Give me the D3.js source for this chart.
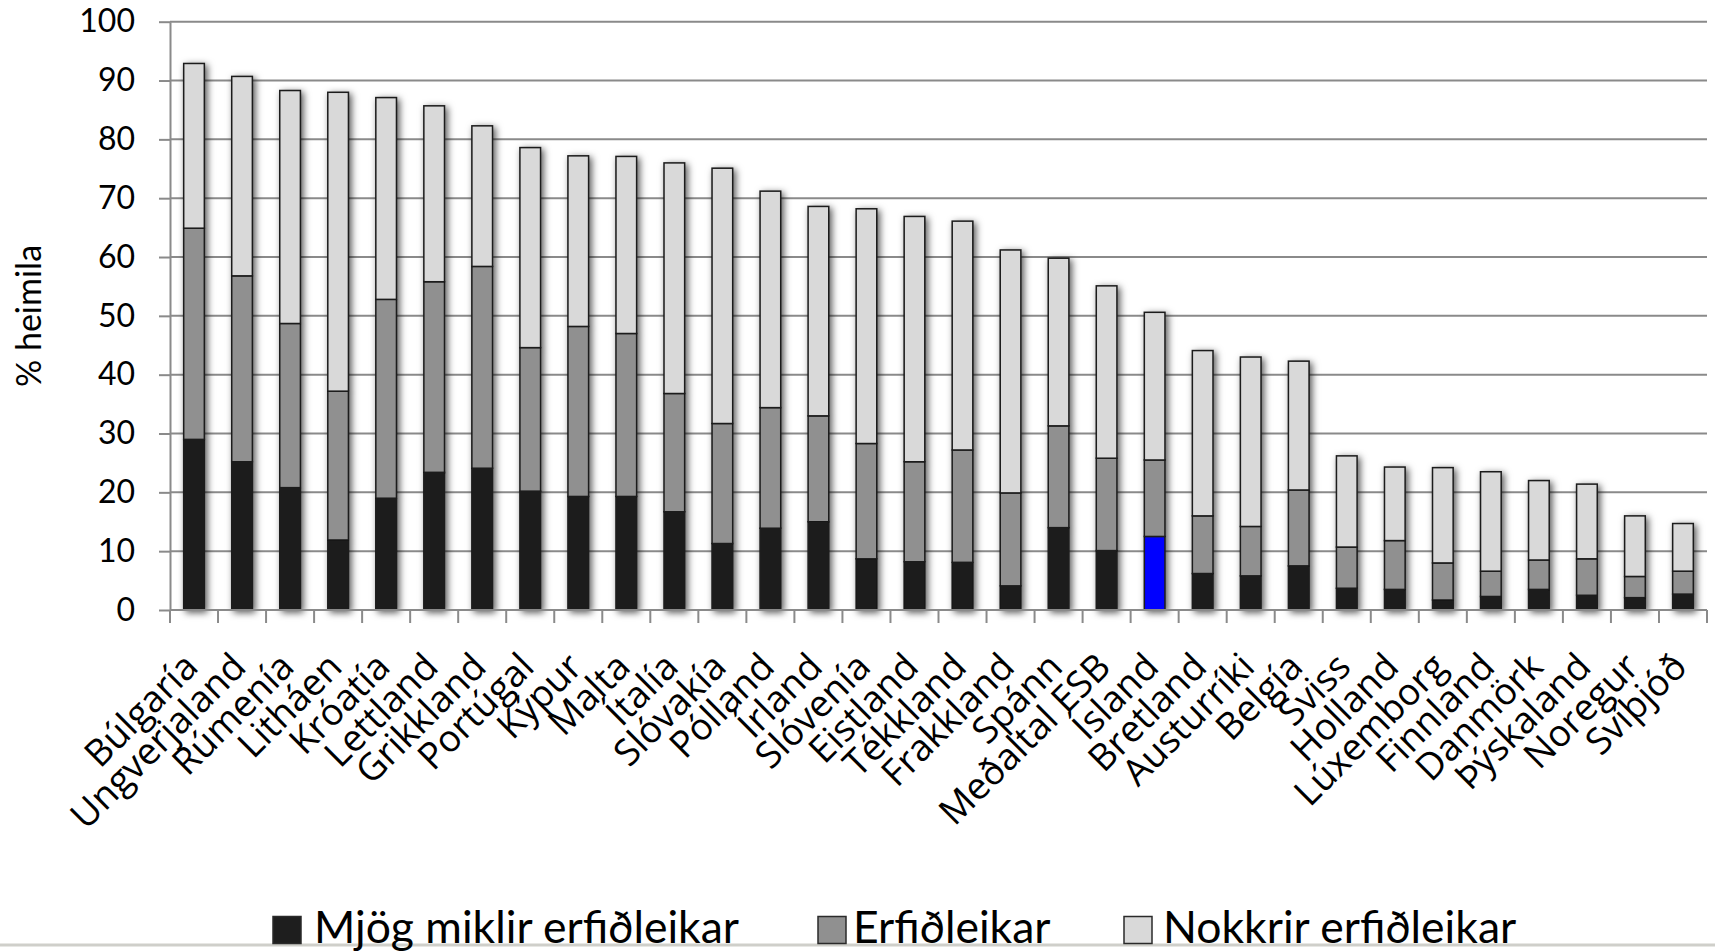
<!DOCTYPE html>
<html><head><meta charset="utf-8">
<script src="https://cdn.jsdelivr.net/npm/d3@7"></script>
<style>body{margin:0;background:#fff;} svg{display:block;}</style>
</head><body>
<svg id="chart" width="1715" height="952"></svg>
<script>
const categories = ["Búlgaría","Ungverjaland","Rúmenía","Litháen","Króatía","Lettland","Grikkland","Portúgal","Kýpur","Malta","Ítalía","Slóvakía","Pólland","Írland","Slóvenía","Eistland","Tékkland","Frakkland","Spánn","Meðaltal ESB","Ísland","Bretland","Austurríki","Belgía","Sviss","Holland","Lúxemborg","Finnland","Danmörk","Þýskaland","Noregur","Svíþjóð"];
const veryDifficult = [29.0,25.2,20.8,11.9,19.0,23.4,24.1,20.2,19.3,19.3,16.7,11.3,13.9,15.0,8.7,8.2,8.1,4.1,14.0,10.1,12.5,6.2,5.8,7.5,3.7,3.5,1.7,2.3,3.5,2.5,2.1,2.7];
const difficult = [35.9,31.6,27.9,25.3,33.8,32.4,34.3,24.4,28.9,27.7,20.1,20.4,20.5,18.0,19.6,17.0,19.1,15.8,17.3,15.7,13.0,9.8,8.4,12.9,7.0,8.3,6.3,4.3,5.0,6.2,3.6,3.9];
const someDifficult = [28.0,33.9,39.6,50.8,34.3,29.9,23.9,34.0,29.0,30.1,39.2,43.4,36.8,35.6,39.9,41.7,38.9,41.3,28.5,29.3,25.1,28.1,28.8,21.9,15.5,12.5,16.2,16.9,13.5,12.7,10.3,8.1];
const seriesNames = ["Mjög miklir erfiðleikar","Erfiðleikar","Nokkrir erfiðleikar"];
const yTicks = [0,10,20,30,40,50,60,70,80,90,100];
const yTitle = "% heimila";
const highlightCategory = "Ísland";

const keys = ["very","diff","some"];
const colors = {very:"#1e1e1e", diff:"#909090", some:"#d9d9d9"};
const highlightColor = "#0000ff";

const table = categories.map((c,i)=>({cat:c, very:veryDifficult[i], diff:difficult[i], some:someDifficult[i]}));
const stacked = d3.stack().keys(keys)(table);

const svg = d3.select("#chart");
const X0 = 170, X1 = 1707, Y0 = 610, Y1 = 21.7;

const defs = svg.append("defs");
const f = defs.append("filter").attr("id","sh").attr("x","-80%").attr("y","-10%").attr("width","260%").attr("height","125%");
f.append("feDropShadow").attr("dx",2.5).attr("dy",2).attr("stdDeviation",3.5).attr("flood-color","#000").attr("flood-opacity",0.65);

const x = d3.scaleBand().domain(categories).range([X0,X1]).paddingInner(0.57).paddingOuter(0.285);
const y = d3.scaleLinear().domain([0,100]).range([Y0,Y1]);

// gridlines
svg.append("g").selectAll("line").data(yTicks).join("line")
  .attr("x1",X0).attr("x2",X1).attr("y1",d=>y(d)).attr("y2",d=>y(d))
  .attr("stroke","#8a8a8a").attr("stroke-width",2);

// y axis
const yAxis = svg.append("g").attr("transform",`translate(${X0},0)`)
  .call(d3.axisLeft(y).tickValues(yTicks).tickSize(11).tickPadding(24).tickSizeOuter(0));
yAxis.select(".domain").attr("stroke","#8a8a8a").attr("stroke-width",2);
yAxis.selectAll(".tick line").attr("stroke","#8a8a8a").attr("stroke-width",2);
yAxis.selectAll(".tick text").attr("font-family","Lato, 'Open Sans', sans-serif").attr("font-size",32).attr("fill","#000");

// x axis tick marks at band boundaries
const step = x.step();
const gap = (step - x.bandwidth())/2;
const bounds = categories.map(c=>x(c)-gap).concat([x(categories[categories.length-1])+x.bandwidth()+gap]);
svg.append("g").selectAll("line").data(bounds).join("line")
  .attr("x1",d=>d).attr("x2",d=>d).attr("y1",Y0).attr("y2",Y0+13)
  .attr("stroke","#8a8a8a").attr("stroke-width",2);

// bars
const barG = svg.append("g").selectAll("g").data(categories).join("g").attr("filter","url(#sh)");
barG.each(function(cat, i){
  const g = d3.select(this);
  stacked.forEach(layer=>{
    const seg = layer[i];
    const fill = (layer.key==="very" && cat===highlightCategory) ? highlightColor : colors[layer.key];
    g.append("rect")
      .attr("x",x(cat)).attr("width",x.bandwidth())
      .attr("y",y(seg[1])).attr("height",y(seg[0])-y(seg[1]))
      .attr("fill",fill).attr("stroke","#1a1a1a").attr("stroke-width",1.5);
  });
});

// x axis baseline over bars
svg.append("line").attr("x1",X0).attr("x2",X1).attr("y1",Y0).attr("y2",Y0).attr("stroke","#8a8a8a").attr("stroke-width",2);

// x labels
svg.append("g").selectAll("text").data(categories).join("text")
  .attr("transform",d=>`translate(${x(d)+x.bandwidth()/2+6},669) rotate(-45)`)
  .attr("text-anchor","end")
  .attr("font-family","'Open Sans', sans-serif").attr("font-size",37).attr("fill","#000")
  .text(d=>d);

// y title
svg.append("text").attr("transform","translate(41,316) rotate(-90)")
  .attr("text-anchor","middle").attr("font-family","Lato, 'Open Sans', sans-serif").attr("font-size",34)
  .attr("fill","#000").text(yTitle);

// bottom line
svg.append("rect").attr("x",0).attr("y",943.5).attr("width",1715).attr("height",3).attr("fill","#cfcfca");

// legend
const legendColors = [colors.very, colors.diff, colors.some];
const legendX = [273, 818, 1124];
const legendTextX = [314, 853, 1163];
seriesNames.forEach((name,i)=>{
  const g = svg.append("g");
  g.append("rect").attr("x",legendX[i]).attr("y",916.5).attr("width",28).attr("height",27)
    .attr("fill",legendColors[i]).attr("stroke","#2a2a2a").attr("stroke-width",1.5);
  g.append("text").attr("x",legendTextX[i]).attr("y",943).attr("font-family","Lato, 'Open Sans', sans-serif")
    .attr("font-size",44.5).attr("fill","#000").text(name);
});
</script>
</body></html>
